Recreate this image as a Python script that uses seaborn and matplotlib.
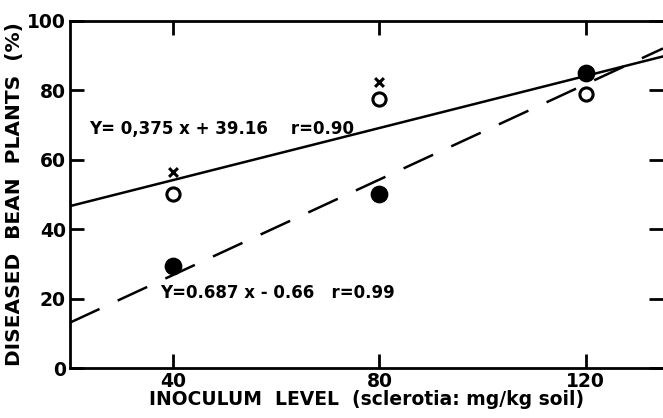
import numpy as np
import pandas as pd
import seaborn as sns
import matplotlib.pyplot as plt

# inoculum levels and observed disease (%)
levels = [40, 80, 120]
open_pts = [50, 77.5, 79]      # open circles
cross_pts = [56.5, 82.5]       # x marks (40, 80 only)
filled_pts = [29.5, 50, 85]    # filled circles

# regression lines (slope, intercept) as printed on the chart
fit_open = (0.375, 39.16)
fit_filled = (0.687, -0.66)
eq_open = 'Y= 0,375 x + 39.16    r=0.90'
eq_filled = 'Y=0.687 x - 0.66   r=0.99'

sns.set_style('white')
plt.rcParams['font.family'] = ['DejaVu Sans']
plt.rcParams['text.color'] = 'black'
plt.rcParams['axes.labelcolor'] = 'black'
plt.rcParams['xtick.color'] = 'black'
plt.rcParams['ytick.color'] = 'black'

fig = plt.figure(figsize=(6.63, 4.18), dpi=100)
ax = fig.add_axes([0.1056, 0.1196, 0.8944, 0.8302])

df_o = pd.DataFrame({'x': levels, 'y': open_pts})
df_c = pd.DataFrame({'x': levels[:2], 'y': cross_pts})
df_f = pd.DataFrame({'x': levels, 'y': filled_pts})

sns.scatterplot(data=df_o, x='x', y='y', ax=ax, marker='o', s=90,
                facecolor='white', edgecolor='black', linewidth=2.2, zorder=3)
sns.scatterplot(data=df_c, x='x', y='y', ax=ax, marker='x', s=40,
                color='black', linewidth=2.2, zorder=3)
sns.scatterplot(data=df_f, x='x', y='y', ax=ax, marker='o', s=140,
                color='black', edgecolor='black', zorder=3)

ax.axline((0, fit_open[1]), slope=fit_open[0], color='black', lw=1.8)
ax.axline((0, fit_filled[1]), slope=fit_filled[0], color='black', lw=1.8,
          dashes=(13, 8))

ax.text(23.7, 69, eq_open, fontsize=12, fontweight='bold', va='center')
ax.text(37.4, 21.6, eq_filled, fontsize=12, fontweight='bold', va='center')

ax.set_xlim(20, 135)
ax.set_ylim(0, 100)
ax.set_xticks([40, 80, 120])
ax.set_yticks([0, 20, 40, 60, 80, 100])
ax.tick_params(direction='in', length=10, width=2, labelsize=13.5,
               top=True, right=True, left=True, bottom=True, pad=3)
for lab in ax.get_xticklabels() + ax.get_yticklabels():
    lab.set_fontweight('bold')

for side in ['left', 'bottom', 'top']:
    ax.spines[side].set_linewidth(2)
    ax.spines[side].set_color('black')
ax.spines['right'].set_visible(False)

ax.set_xlabel('INOCULUM  LEVEL  (sclerotia: mg/kg soil)', fontsize=13.5,
              fontweight='bold', labelpad=-1)
ax.set_ylabel('DISEASED  BEAN  PLANTS  (%)', fontsize=14.5,
              fontweight='bold', labelpad=2)

fig.savefig('out.png', dpi=100)
